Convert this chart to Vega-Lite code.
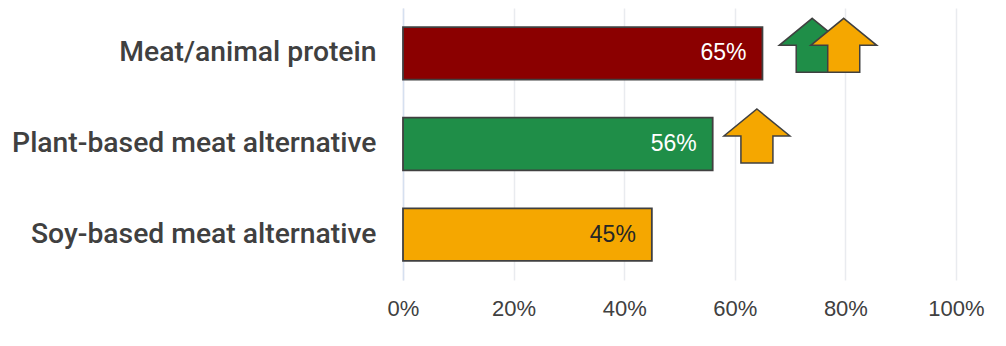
{
  "$schema": "https://vega.github.io/schema/vega-lite/v6.json",
  "width": 553,
  "height": 272,
  "autosize": {"type": "none"},
  "padding": {"left": 403, "top": 8, "right": 50, "bottom": 66},
  "background": "white",
  "config": {
    "view": {"stroke": null},
    "font": "Liberation Sans",
    "axis": {"labelFont": "Liberation Sans", "labelColor": "#404040"}
  },
  "datasets": {
    "bars": [
      {"category": "Meat/animal protein", "value": 0.65},
      {"category": "Plant-based meat alternative", "value": 0.56},
      {"category": "Soy-based meat alternative", "value": 0.45}
    ],
    "arrows": [
      {"category": "Meat/animal protein", "series": "Plant-based meat alternative", "pos": 0.74},
      {"category": "Meat/animal protein", "series": "Soy-based meat alternative", "pos": 0.797},
      {"category": "Plant-based meat alternative", "series": "Soy-based meat alternative", "pos": 0.64}
    ]
  },
  "encoding": {
    "y": {
      "field": "category",
      "type": "nominal",
      "sort": ["Meat/animal protein", "Plant-based meat alternative", "Soy-based meat alternative"],
      "scale": {"paddingInner": 0.42, "paddingOuter": 0.21},
      "axis": {
        "title": null,
        "labelFont": "Roboto",
        "labelFontWeight": 500,
        "labelFontSize": 28.3,
        "labelColor": "#404040",
        "labelPadding": 27,
        "labelLimit": 400,
        "ticks": false,
        "domain": true,
        "domainColor": "#d6e0f0",
        "domainWidth": 1.5,
        "grid": false
      }
    }
  },
  "layer": [
    {
      "data": {"name": "bars"},
      "mark": {"type": "bar", "stroke": "#404040", "strokeWidth": 1.8},
      "encoding": {
        "x": {
          "field": "value",
          "type": "quantitative",
          "scale": {"domain": [0, 1], "nice": false},
          "axis": {
            "title": null,
            "format": ".0%",
            "values": [0, 0.2, 0.4, 0.6, 0.8, 1],
            "labelFontSize": 22,
            "labelPadding": 18,
            "ticks": false,
            "tickSize": 0,
            "domain": false,
            "grid": true,
            "gridColor": "#e9ebef",
            "gridWidth": 1.5,
            "labelFlush": false
          }
        },
        "fill": {
          "field": "category",
          "type": "nominal",
          "scale": {
            "domain": ["Meat/animal protein", "Plant-based meat alternative", "Soy-based meat alternative"],
            "range": ["#8b0000", "#1f8e48", "#f5a700"]
          },
          "legend": null
        }
      }
    },
    {
      "data": {"name": "bars"},
      "mark": {"type": "text", "align": "right", "baseline": "middle", "dx": -16, "fontSize": 23, "font": "Liberation Sans"},
      "encoding": {
        "x": {"field": "value", "type": "quantitative"},
        "text": {"field": "value", "type": "quantitative", "format": ".0%"},
        "color": {
          "condition": {"test": "datum.value < 0.5", "value": "#262626"},
          "value": "#ffffff"
        }
      }
    },
    {
      "data": {"name": "arrows"},
      "mark": {
        "type": "point",
        "shape": "M 0 -0.818 L 1 0 L 0.485 0 L 0.485 0.818 L -0.485 0.818 L -0.485 0 L -1 0 Z",
        "size": 4356,
        "filled": true,
        "opacity": 1,
        "stroke": "#404040",
        "strokeWidth": 1.5,
        "yOffset": -8
      },
      "encoding": {
        "x": {"field": "pos", "type": "quantitative"},
        "fill": {"field": "series", "type": "nominal", "legend": null}
      }
    }
  ]
}
